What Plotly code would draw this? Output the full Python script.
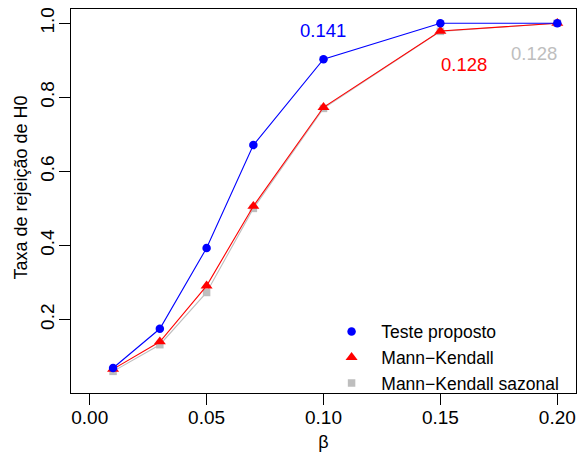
import plotly.graph_objects as go

# Effect size (beta) values
beta = [0.01, 0.03, 0.05, 0.07, 0.10, 0.15, 0.20]

# Rejection rates of H0 for each test
teste_proposto = [0.069, 0.175, 0.393, 0.671, 0.903, 1.000, 1.000]
mann_kendall = [0.066, 0.140, 0.291, 0.506, 0.773, 0.979, 1.000]
mk_sazonal = [0.060, 0.132, 0.273, 0.500, 0.770, 0.978, 1.000]

# Text labels placed on the plot
label_texts = ["0.141", "0.128", "0.128"]
label_x = [0.0996, 0.160, 0.190]
label_y = [0.980, 0.889, 0.919]

x_ticks = [0.00, 0.05, 0.10, 0.15, 0.20]
y_ticks = [0.2, 0.4, 0.6, 0.8, 1.0]

BLUE = "#0000FF"
RED = "#FF0000"
GREY = "#BEBEBE"
FONT = "Liberation Sans, Arial, sans-serif"
PAD = "\u00a0\u00a0"

series = [
    ("Mann\u2212Kendall sazonal", mk_sazonal, GREY, "square", 7.5, 3),
    ("Mann\u2212Kendall", mann_kendall, RED, "triangle-up", 10.5, 2),
    ("Teste proposto", teste_proposto, BLUE, "circle", 8.5, 1),
]

fig = go.Figure()
for name, vals, color, symbol, size, rank in series:
    fig.add_trace(go.Scatter(
        x=beta, y=vals, mode="lines",
        line=dict(color=color, width=1.1),
        showlegend=False, hoverinfo="skip",
    ))
    fig.add_trace(go.Scatter(
        x=beta, y=vals, mode="markers", name=PAD + name,
        marker=dict(color=color, symbol=symbol, size=size, line=dict(width=0)),
        legendrank=rank,
    ))

for txt, lx, ly, color in zip(label_texts, label_x, label_y, [BLUE, RED, GREY]):
    fig.add_annotation(x=lx, y=ly, text=txt, showarrow=False,
                       font=dict(color=color, size=18.5, family=FONT),
                       xanchor="center", yanchor="middle")

# y-axis title
fig.add_annotation(xref="paper", yref="paper", x=-0.099, y=0.535,
                   text="Taxa de rejeição de H0", textangle=-90,
                   showarrow=False, xanchor="center", yanchor="middle",
                   font=dict(size=18, family=FONT, color="black"))

fig.update_layout(
    width=577, height=455,
    margin=dict(l=71, r=1, t=9, b=62),
    paper_bgcolor="white", plot_bgcolor="white",
    font=dict(family=FONT, size=18, color="black"),
    legend=dict(
        x=0.516, y=0.092, xanchor="left", yanchor="middle",
        bgcolor="rgba(0,0,0,0)", font=dict(size=17.5),
        itemsizing="trace", tracegroupgap=0,
    ),
)

fig.update_xaxes(
    range=[-0.008, 0.208], tickvals=x_ticks, tickformat=".2f",
    tickfont=dict(size=19),
    showline=True, mirror=True, linecolor="black", linewidth=1,
    ticks="outside", ticklen=11, tickcolor="black",
    showgrid=False, zeroline=False,
    ticklabelstandoff=-4,
    title=dict(text="β", standoff=8, font=dict(size=18)),
)
fig.update_yaxes(
    range=[0.0016, 1.0384], tickvals=y_ticks, tickformat=".1f",
    tickfont=dict(size=19),
    showline=True, mirror=True, linecolor="black", linewidth=1,
    ticks="outside", ticklen=11, tickcolor="black",
    showgrid=False, zeroline=False, tickangle=-90,
    ticklabelstandoff=-3,
)

fig.write_html("out.html")
